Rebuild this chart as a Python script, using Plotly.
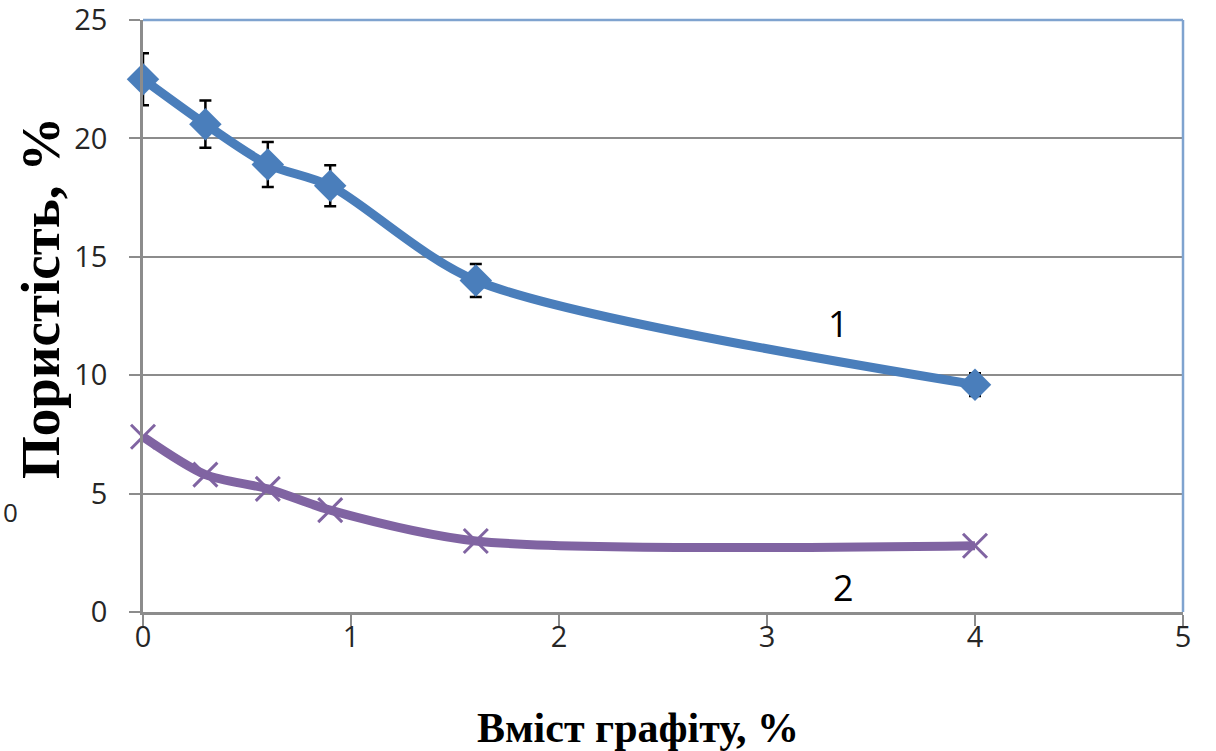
import plotly.graph_objects as go

graphite = [0, 0.3, 0.6, 0.9, 1.6, 4.0]
porosity_1 = [22.5, 20.6, 18.9, 18.0, 14.0, 9.6]
error_1 = [1.1, 1.0, 0.95, 0.87, 0.7, 0.48]
porosity_2 = [7.4, 5.8, 5.2, 4.3, 3.0, 2.8]
x_ticks = [0, 1, 2, 3, 4, 5]
y_ticks = [0, 5, 10, 15, 20, 25]

blue = "#4a7ebb"
purple = "#8064a2"
grid = "#8c8c8c"

L, R, T, B = 143, 33, 20, 139
PW = 1216 - L - R
PH = 751 - T - B

def px_x(p):
    return (p - L) / PW

def px_y(p):
    return (751 - B - p) / PH

fig = go.Figure()
fig.add_trace(go.Scatter(
    x=graphite, y=porosity_1, mode="lines+markers",
    line=dict(color=blue, width=9, shape="spline", smoothing=0.8),
    marker=dict(symbol="diamond", size=25, color=blue),
    error_y=dict(type="data", array=error_1, visible=True, color="black", thickness=2.5, width=6),
    cliponaxis=False, showlegend=False))
fig.add_trace(go.Scatter(
    x=graphite, y=porosity_2, mode="lines+markers",
    line=dict(color=purple, width=9, shape="spline", smoothing=0.8),
    marker=dict(symbol="x-thin", size=24, line=dict(color=purple, width=3)),
    cliponaxis=False, showlegend=False))

tick_font = dict(family="Open Sans, Liberation Sans", size=29, color="#262626")

fig.update_layout(
    width=1216, height=751,
    margin=dict(l=L, r=R, t=T, b=B),
    paper_bgcolor="white", plot_bgcolor="white",
    xaxis=dict(range=[0, 5], tickvals=x_ticks, showgrid=False, zeroline=False,
               showline=True, linecolor=grid, linewidth=2.5, automargin=False,
               ticks="outside", ticklen=11, tickwidth=2, tickcolor=grid,
               ticklabelstandoff=-14, ticklabeloverflow="allow", tickfont=tick_font),
    yaxis=dict(range=[0, 25], tickvals=y_ticks, showgrid=True, gridcolor=grid, gridwidth=2,
               zeroline=False, showline=True, linecolor=grid, linewidth=2.5, automargin=False,
               ticks="outside", ticklen=11, tickwidth=2, tickcolor=grid,
               ticklabelstandoff=16, ticklabeloverflow="allow", tickfont=tick_font),
    shapes=[
        dict(type="line", xref="paper", yref="paper", x0=0, x1=1, y0=1, y1=1,
             line=dict(color="#7fa3cf", width=2.5)),
        dict(type="line", xref="paper", yref="paper", x0=1, x1=1, y0=0, y1=1,
             line=dict(color="#7fa3cf", width=2.5)),
    ],
    annotations=[
        dict(text="1", x=3.345, y=12.2, xref="x", yref="y", showarrow=False,
             font=dict(family="Open Sans, Liberation Sans", size=36, color="black")),
        dict(text="2", x=3.37, y=1.05, xref="x", yref="y", showarrow=False,
             font=dict(family="Open Sans, Liberation Sans", size=36, color="black")),
        dict(text="<b>Вміст графіту, %</b>", x=px_x(638), y=px_y(728),
             xref="paper", yref="paper", showarrow=False,
             xanchor="center", yanchor="middle",
             font=dict(family="Liberation Serif", size=42, color="black")),
        dict(text="<b>Пористість, %</b>", x=px_x(40), y=px_y(298),
             xref="paper", yref="paper", showarrow=False, textangle=-90,
             xanchor="center", yanchor="middle",
             font=dict(family="Liberation Serif", size=55, color="black")),
        dict(text="0", x=px_x(1), y=px_y(512), xref="paper", yref="paper",
             showarrow=False, xanchor="left", yanchor="middle",
             font=dict(family="Open Sans, Liberation Sans", size=26, color="#262626")),
    ],
)

fig.write_html("out.html", config={"displayModeBar": False},
               post_script="document.body.style.margin='0';")
